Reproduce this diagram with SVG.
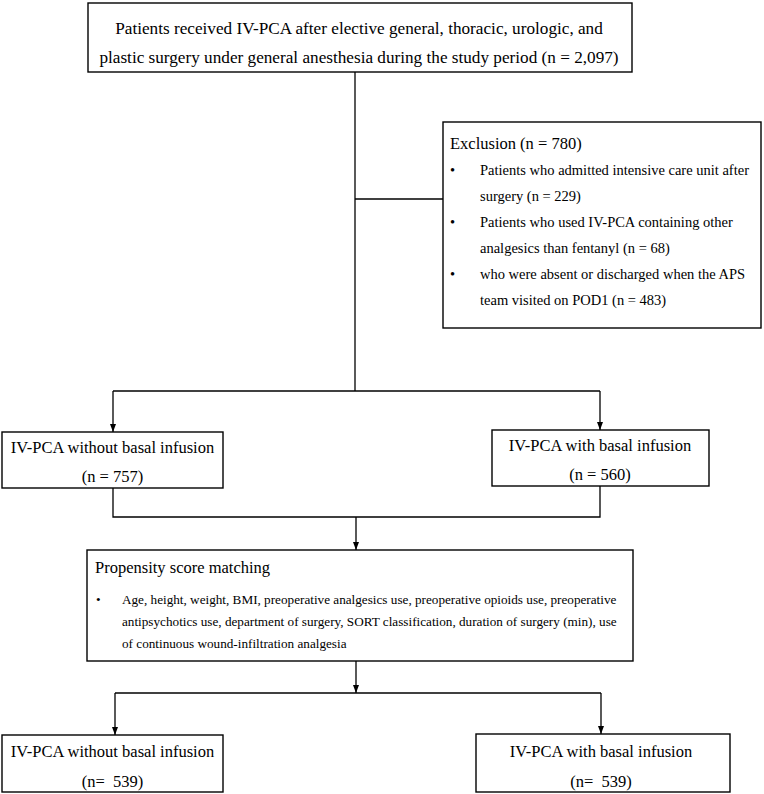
<svg xmlns="http://www.w3.org/2000/svg" width="764" height="794" viewBox="0 0 764 794">
<style>
.box{fill:#fff;stroke:#000;stroke-width:1.4}
.ln{fill:none;stroke:#000;stroke-width:1.3}
text{font-family:"Liberation Serif","Times New Roman",serif;fill:#000}
.t17{font-size:17.2px}
.t16{font-size:16.5px}
.t14{font-size:14.5px}
.t13{font-size:13.2px}
.c{text-anchor:middle}
</style>
<defs>
<marker id="ah" viewBox="0 0 8 8" refX="8" refY="4" markerWidth="8" markerHeight="8" markerUnits="userSpaceOnUse" orient="auto">
<path d="M0,1 L8,4 L0,7 Z" fill="#000"/>
</marker>
</defs>
<rect width="764" height="794" fill="#fff"/>
<g id="connectors">
<path class="ln" d="M355,72 V391"/>
<path class="ln" d="M355,199 H443"/>
<path class="ln" d="M113,391 H600"/>
<path class="ln" d="M113,391 V432" marker-end="url(#ah)"/>
<path class="ln" d="M600,391 V430" marker-end="url(#ah)"/>
<path class="ln" d="M113,488 V517 H600 V486"/>
<path class="ln" d="M356,517 V550" marker-end="url(#ah)"/>
<path class="ln" d="M356,661 V693" marker-end="url(#ah)"/>
<path class="ln" d="M115,693 H601"/>
<path class="ln" d="M115,693 V735" marker-end="url(#ah)"/>
<path class="ln" d="M601,693 V734" marker-end="url(#ah)"/>
</g>
<g id="top">
<rect class="box" x="88" y="3" width="544" height="69"/>
<text class="t17 c" x="359" y="34">Patients received IV-PCA after elective general, thoracic, urologic, and</text>
<text class="t17 c" x="359" y="63">plastic surgery under general anesthesia during the study period (n = 2,097)</text>
</g>
<g id="exclusion">
<rect class="box" x="443" y="122" width="318" height="206"/>
<text class="t16" x="450" y="149">Exclusion (n = 780)</text>
<text class="t14" x="450" y="175">•</text>
<text class="t14" x="480" y="175">Patients who admitted intensive care unit after</text>
<text class="t14" x="480" y="201">surgery (n = 229)</text>
<text class="t14" x="450" y="227">•</text>
<text class="t14" x="480" y="227">Patients who used IV-PCA containing other</text>
<text class="t14" x="480" y="253">analgesics than fentanyl (n = 68)</text>
<text class="t14" x="450" y="279">•</text>
<text class="t14" x="480" y="279">who were absent or discharged when the APS</text>
<text class="t14" x="480" y="305">team visited on POD1 (n = 483)</text>
</g>
<g id="without1">
<rect class="box" x="2" y="432" width="221" height="56"/>
<text class="t16 c" x="112.5" y="453">IV-PCA without basal infusion</text>
<text class="t16 c" x="112.5" y="482">(n = 757)</text>
</g>
<g id="with1">
<rect class="box" x="492" y="430" width="217" height="56"/>
<text class="t16 c" x="600" y="451">IV-PCA with basal infusion</text>
<text class="t16 c" x="600" y="480">(n = 560)</text>
</g>
<g id="psm">
<rect class="box" x="87" y="550" width="546" height="111"/>
<text class="t16" x="95" y="573">Propensity score matching</text>
<text class="t13" x="96" y="604">•</text>
<text class="t13" x="122" y="604">Age, height, weight, BMI, preoperative analgesics use, preoperative opioids use, preoperative</text>
<text class="t13" x="122" y="626">antipsychotics use, department of surgery, SORT classification, duration of surgery (min), use</text>
<text class="t13" x="122" y="648">of continuous wound-infiltration analgesia</text>
</g>
<g id="without2">
<rect class="box" x="2" y="735" width="221" height="57"/>
<text class="t16 c" x="112.5" y="757">IV-PCA without basal infusion</text>
<text class="t16 c" x="112.5" y="787" xml:space="preserve">(n=  539)</text>
</g>
<g id="with2">
<rect class="box" x="476" y="734" width="254" height="58"/>
<text class="t16 c" x="601" y="757">IV-PCA with basal infusion</text>
<text class="t16 c" x="601" y="787" xml:space="preserve">(n=  539)</text>
</g>
</svg>
